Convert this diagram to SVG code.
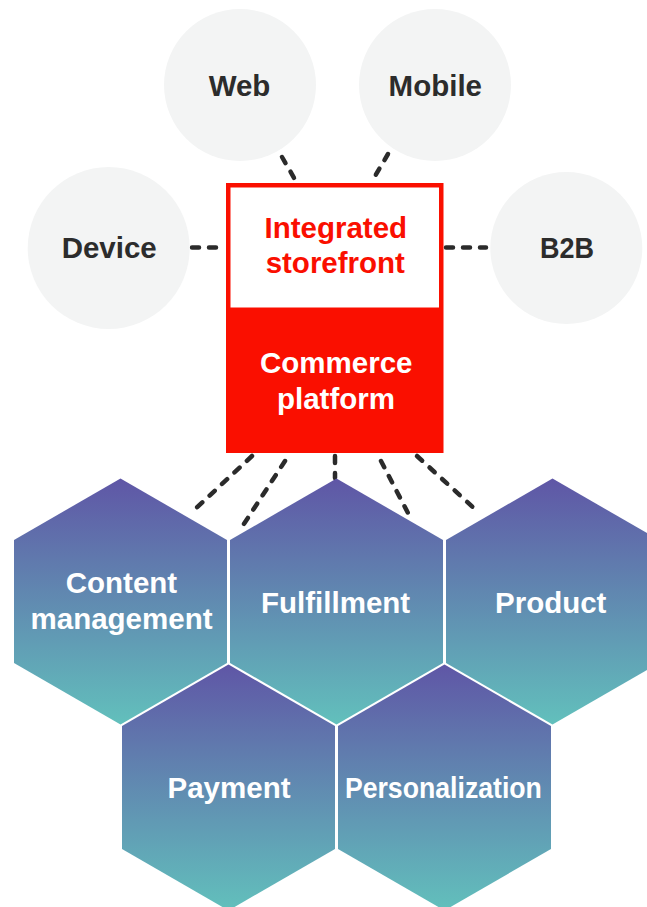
<svg xmlns="http://www.w3.org/2000/svg" width="647" height="907" viewBox="0 0 647 907">
<style>
.lbl{font-family:"Liberation Sans",Arial,sans-serif;font-weight:bold;font-size:29.5px;text-anchor:middle}
.dark{fill:#2c2c2c}
.white{fill:#ffffff}
.red{fill:#fa0f00}
.circle{fill:#f3f4f4}
.hex{fill:url(#hexGrad)}
.conn{stroke:#2b2b2b;stroke-width:4.5;stroke-linecap:round;fill:none;stroke-dasharray:7 10}
</style>
<defs>
<linearGradient id="hexGrad" x1="0" y1="0" x2="0" y2="1">
<stop offset="0" stop-color="#5f56a6"/>
<stop offset="1" stop-color="#62c0bc"/>
</linearGradient>
</defs>
<rect width="647" height="907" fill="#ffffff"/>

<g id="connectors">
<line class="conn" x1="282" y1="157" x2="297" y2="183"/>
<line class="conn" x1="388" y1="154" x2="371" y2="183"/>
<line class="conn" x1="192" y1="247.5" x2="226" y2="247.5"/>
<line class="conn" x1="446" y1="247.5" x2="486" y2="247.5"/>
<line class="conn" x1="252" y1="456" x2="192" y2="512"/>
<line class="conn" x1="285" y1="461" x2="240" y2="530"/>
<line class="conn" x1="335" y1="456" x2="335" y2="478"/>
<line class="conn" x1="381" y1="461" x2="408" y2="513"/>
<line class="conn" x1="417" y1="456" x2="477" y2="511"/>
</g>

<g id="web">
<circle class="circle" cx="240" cy="85" r="76"/>
<text class="lbl dark" x="239.5" y="96">Web</text>
</g>
<g id="mobile">
<circle class="circle" cx="435" cy="85" r="76"/>
<text class="lbl dark" x="435.3" y="96">Mobile</text>
</g>
<g id="device">
<circle class="circle" cx="108.7" cy="248" r="81"/>
<text class="lbl dark" x="109.2" y="257.7">Device</text>
</g>
<g id="b2b">
<circle class="circle" cx="566.3" cy="248" r="76"/>
<text class="lbl dark" x="567" y="257.7" textLength="54" lengthAdjust="spacingAndGlyphs">B2B</text>
</g>

<g id="storefront-platform">
<rect x="226" y="183" width="217.5" height="270" fill="#fa0f00"/>
<rect x="230.5" y="187.5" width="208.5" height="120" fill="#ffffff"/>
<text class="lbl red" x="335.8" y="238.3">Integrated</text>
<text class="lbl red" x="335.3" y="273.3">storefront</text>
<text class="lbl white" x="336.3" y="372.7">Commerce</text>
<text class="lbl white" x="336" y="409.3">platform</text>
</g>

<g id="content-management">
<polygon class="hex" points="120.5,478.5 227,540 227,663 120.5,724.5 14,663 14,540"/>
<text class="lbl white" x="121.5" y="593.3">Content</text>
<text class="lbl white" x="121.5" y="629.3">management</text>
</g>
<g id="fulfillment">
<polygon class="hex" points="336.5,478.5 443,540 443,663 336.5,724.5 230,663 230,540"/>
<text class="lbl white" x="335.6" y="612.7">Fulfillment</text>
</g>
<g id="product">
<polygon class="hex" points="552.5,478.5 659,540 659,663 552.5,724.5 446,663 446,540"/>
<text class="lbl white" x="550.7" y="612.7">Product</text>
</g>
<g id="payment">
<polygon class="hex" points="228.5,664.5 335,726 335,849 228.5,910.5 122,849 122,726"/>
<text class="lbl white" x="229" y="798">Payment</text>
</g>
<g id="personalization">
<polygon class="hex" points="444.5,664.5 551,726 551,849 444.5,910.5 338,849 338,726"/>
<text class="lbl white" x="443.4" y="798" textLength="197" lengthAdjust="spacingAndGlyphs">Personalization</text>
</g>
</svg>
